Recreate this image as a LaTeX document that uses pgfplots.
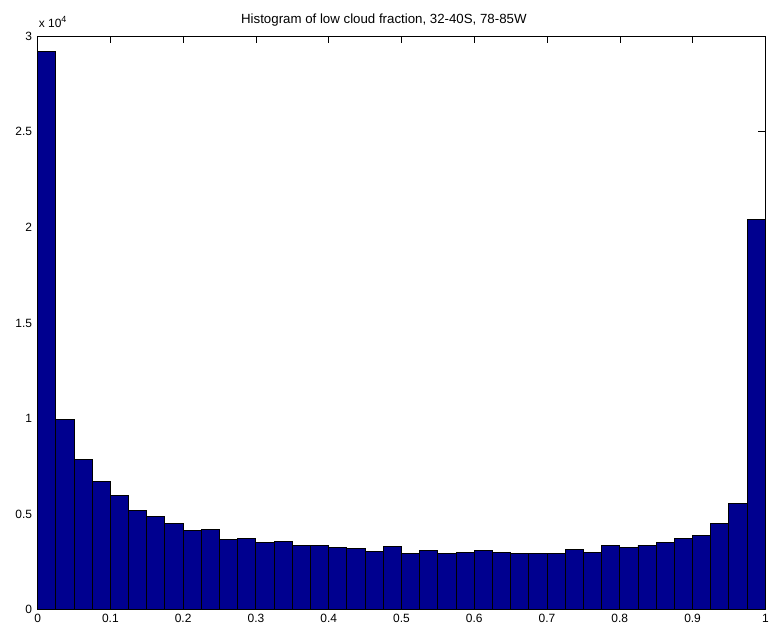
\documentclass[border=0pt]{standalone}
\usepackage{pgfplots}
\pgfplotsset{compat=1.18}
\usepackage{fontspec}
\setmainfont{Liberation Sans}
\definecolor{barblue}{RGB}{0,0,143}

\pgfplotstableread{
x      n
0.000  29200
0.025  9950
0.050  7850
0.075  6700
0.100  5950
0.125  5200
0.150  4900
0.175  4500
0.200  4130
0.225  4220
0.250  3690
0.275  3740
0.300  3530
0.325  3580
0.350  3370
0.375  3370
0.400  3250
0.425  3200
0.450  3040
0.475  3320
0.500  2960
0.525  3080
0.550  2960
0.575  3010
0.600  3080
0.625  3010
0.650  2960
0.675  2920
0.700  2960
0.725  3150
0.750  3010
0.775  3340
0.800  3250
0.825  3370
0.850  3530
0.875  3740
0.900  3900
0.925  4500
0.950  5570
0.975  20400
1.000  20400
}\histdata

\begin{document}
\begin{tikzpicture}[x=1pt,y=1pt]
\begin{axis}[
  at={(0,0)}, anchor=south west,
  width=729.3pt, height=574.7pt, scale only axis,
  xmin=0, xmax=1, ymin=0, ymax=30000,
  xtick={0,0.1,...,1.01},
  xticklabels={0,0.1,0.2,0.3,0.4,0.5,0.6,0.7,0.8,0.9,1},
  ytick={0,5000,10000,15000,20000,25000,30000},
  yticklabels={0,0.5,1,1.5,2,2.5,3},
  scaled y ticks=false,
  tick align=inside, major tick length=7pt,
  tick style={black, line width=0.6pt},
  axis line style={black, line width=0.7pt},
  ticklabel style={font=\fontsize{12}{14}\selectfont},
  xticklabel style={yshift=-1pt},
  yticklabel style={xshift=-2pt},
  clip=false,
]
\addplot[ybar interval, fill=barblue, draw=none] table[x=x, y=n] {\histdata};
\addplot[ybar interval, fill=none, draw=black, line width=1pt] table[x=x, y=n] {\histdata};
\end{axis}
\node[anchor=base west, inner sep=0pt, font=\fontsize{12}{14}\selectfont] at (1,583) {x 10\raisebox{0.8ex}{\fontsize{9}{10}\selectfont 4}};
\node[anchor=base, inner sep=0pt, font=\fontsize{13.3}{15}\selectfont] at (347,587.7) {Histogram of low cloud fraction, 32-40S, 78-85W};
\path[use as bounding box] (-37.7,-24) rectangle (734.3,611);
\end{tikzpicture}
\end{document}
